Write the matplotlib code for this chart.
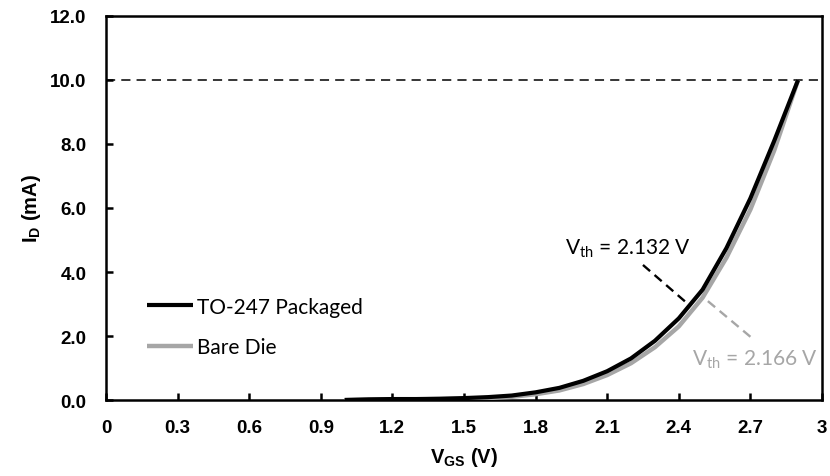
import matplotlib
matplotlib.use("Agg")
import matplotlib.pyplot as plt

vgs = [1.0, 1.1, 1.2, 1.3, 1.4, 1.5, 1.6, 1.7, 1.8, 1.9, 2.0, 2.1, 2.2, 2.3, 2.4, 2.5, 2.6, 2.7, 2.8, 2.9]
id_packaged = [0.0, 0.02, 0.03, 0.03, 0.04, 0.06, 0.09, 0.14, 0.24, 0.38, 0.60, 0.90, 1.30, 1.85, 2.55, 3.45, 4.75, 6.30, 8.10, 10.0]
id_bare = [0.0, 0.01, 0.02, 0.02, 0.03, 0.04, 0.06, 0.10, 0.18, 0.30, 0.50, 0.78, 1.15, 1.65, 2.30, 3.20, 4.45, 5.95, 7.80, 10.0]
x_ticks = [0, 0.3, 0.6, 0.9, 1.2, 1.5, 1.8, 2.1, 2.4, 2.7, 3]
x_ticklabels = ["0", "0.3", "0.6", "0.9", "1.2", "1.5", "1.8", "2.1", "2.4", "2.7", "3"]
y_ticks = [0, 2, 4, 6, 8, 10, 12]
y_ticklabels = ["0.0", "2.0", "4.0", "6.0", "8.0", "10.0", "12.0"]
vth_packaged = "2.132"
vth_bare = "2.166"
ref_current = 10.0

plt.rcParams['font.family'] = ['Liberation Sans', 'DejaVu Sans']
plt.rcParams['mathtext.fontset'] = 'custom'
plt.rcParams['mathtext.rm'] = 'Lato'
plt.rcParams['mathtext.it'] = 'Lato'
plt.rcParams['mathtext.bf'] = 'Liberation Sans:bold'

fig = plt.figure(figsize=(8.3, 4.77), dpi=100)
ax = fig.add_axes([0.1277, 0.1593, 0.8626, 0.8051])

grey = '#a6a6a6'
ax.plot(vgs, id_bare, color=grey, lw=3.2, solid_capstyle='butt', solid_joinstyle='round', label='Bare Die', zorder=3)
ax.plot(vgs, id_packaged, color='black', lw=3.0, solid_capstyle='butt', solid_joinstyle='round', label='TO-247 Packaged', zorder=4)
ax.axhline(ref_current, color='black', lw=1.1, ls=(0, (6, 4)), zorder=2)

# threshold annotations
ax.plot([2.250, 2.434], [4.22, 3.03], color='black', lw=1.7, ls=(0, (4, 2.5)))
ax.plot([2.522, 2.706], [3.09, 1.94], color=grey, lw=1.7, ls=(0, (4, 2.5)))
afont = ['Lato', 'DejaVu Sans']
ax.text(1.925, 4.74, r'V$_{\rm th}$ = ' + vth_packaged + ' V', fontsize=15, color='black',
        va='center', ha='left', family=afont)
ax.text(2.455, 1.30, r'V$_{\rm th}$ = ' + vth_bare + ' V', fontsize=15, color=grey,
        va='center', ha='left', family=afont)

ax.set_xlim(0, 3)
ax.set_ylim(0, 12)
ax.set_xticks(x_ticks)
ax.set_xticklabels(x_ticklabels)
ax.set_yticks(y_ticks)
ax.set_yticklabels(y_ticklabels)
for lab in ax.get_xticklabels() + ax.get_yticklabels():
    lab.set_fontweight('bold')
    lab.set_fontsize(13.5)
ax.tick_params(direction='in', length=5, width=1.8)
ax.tick_params(axis='x', pad=14)
ax.tick_params(axis='y', pad=14)
for s in ax.spines.values():
    s.set_linewidth(1.8)

ax.set_xlabel(r'$\mathbf{V_{GS}}$ (V)', fontsize=14.5, fontweight='bold', labelpad=6)
ax.set_ylabel(r'$\mathbf{I_{D}}$ (mA)', fontsize=14.5, fontweight='bold', labelpad=5)

h, l = ax.get_legend_handles_labels()
leg = ax.legend([h[1], h[0]], [l[1], l[0]], loc='lower left', bbox_to_anchor=(0.031, 0.062),
                frameon=False, handlelength=2.2, handletextpad=0.2, labelspacing=1.0,
                prop={'family': afont, 'size': 15})

fig.savefig('out.png', dpi=100)
